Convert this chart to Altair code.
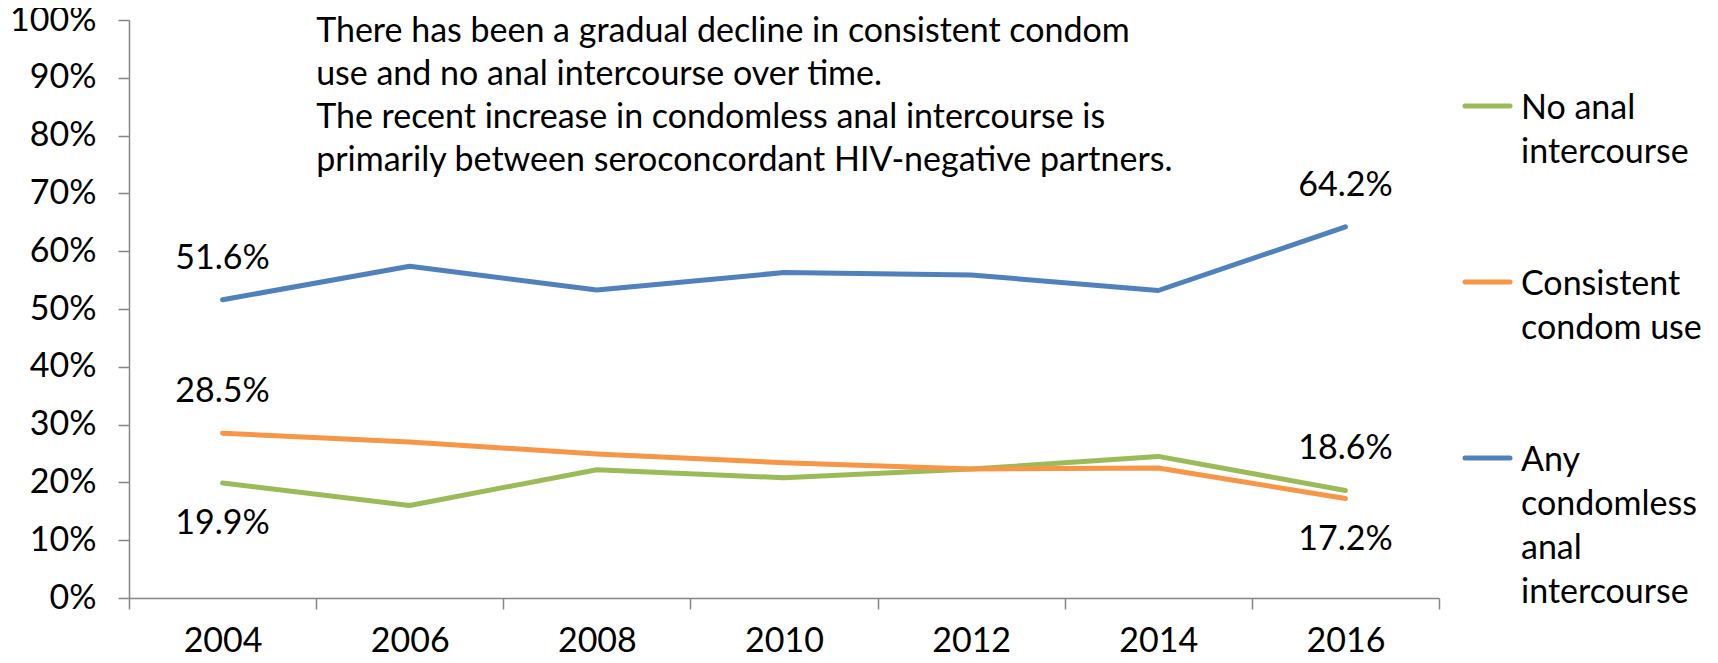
import altair as alt
import pandas as pd

years = ["2004", "2006", "2008", "2010", "2012", "2014", "2016"]
no_anal = [19.9, 16.0, 22.2, 20.8, 22.3, 24.5, 18.6]
consistent = [28.5, 27.0, 24.9, 23.4, 22.3, 22.5, 17.2]
any_cai = [51.6, 57.4, 53.3, 56.3, 55.9, 53.2, 64.2]

series_names = ["No anal intercourse", "Consistent condom use", "Any condomless anal intercourse"]
series_values = [no_anal, consistent, any_cai]
colors = ["#9BBB59", "#F79646", "#4F81BD"]
legend_lines = [["No anal", "intercourse"],
                ["Consistent", "condom use"],
                ["Any", "condomless", "anal", "intercourse"]]

# data labels shown on the chart
label_series = ["Any condomless anal intercourse", "Any condomless anal intercourse",
                "Consistent condom use", "No anal intercourse",
                "No anal intercourse", "Consistent condom use"]
label_years = ["2004", "2016", "2004", "2004", "2016", "2016"]
label_side = ["above", "above", "above", "below", "above", "below"]

y_ticks = [0, 10, 20, 30, 40, 50, 60, 70, 80, 90, 100]

note_lines = [
    "There has been a gradual decline in consistent condom",
    "use and no anal intercourse over time.",
    "The recent increase in condomless anal intercourse is",
    "primarily between seroconcordant HIV-negative partners.",
]

FONT = "Lato"
FS = 34
GRAY = "#868686"

rows = []
for name, vals in zip(series_names, series_values):
    for yr, v in zip(years, vals):
        rows.append({"series": name, "year": yr, "value": v})
df = pd.DataFrame(rows)

lookup = {(r["series"], r["year"]): r["value"] for r in rows}
lab = pd.DataFrame({"series": label_series, "year": label_years, "side": label_side})
lab["value"] = [lookup[(s, y)] for s, y in zip(label_series, label_years)]
lab["text"] = [f"{v:.1f}%" for v in lab["value"]]

leg = pd.DataFrame({"series": series_names, "lines": legend_lines})

color_scale = alt.Scale(domain=series_names, range=colors)

x_enc = alt.X("year:N", sort=years,
              scale=alt.Scale(paddingInner=0, paddingOuter=0),
              axis=alt.Axis(title=None, labelAngle=0, tickBand="extent", tickSize=11,
                            labelPadding=15, labelFont=FONT, labelFontSize=FS,
                            labelColor="black", domainColor=GRAY,
                            tickColor=GRAY, domainWidth=1.5, tickWidth=1.5,
                            grid=False))
y_enc = alt.Y("value:Q",
              scale=alt.Scale(domain=[0, 100], nice=False, zero=True),
              axis=alt.Axis(title=None, values=y_ticks, labelExpr="datum.value + '%'",
                            tickSize=11, labelPadding=22, labelFont=FONT,
                            labelFontSize=FS, labelColor="black",
                            domainColor=GRAY, tickColor=GRAY,
                            domainWidth=1.5, tickWidth=1.5, grid=False))

lines = alt.Chart(df).mark_line(strokeWidth=5, strokeCap="round", strokeJoin="round").encode(
    x=x_enc,
    y=y_enc,
    color=alt.Color("series:N", scale=color_scale, legend=None),
    order=alt.Order("year:N"),
)

above = alt.Chart(lab).transform_filter("datum.side == 'above'").mark_text(
    font=FONT, fontSize=FS, color="black", dy=-41, baseline="middle"
).encode(x=alt.X("year:N", sort=years), y="value:Q", text="text:N")

below = alt.Chart(lab).transform_filter("datum.side == 'below'").mark_text(
    font=FONT, fontSize=FS, color="black", dy=41, baseline="middle"
).encode(x=alt.X("year:N", sort=years), y="value:Q", text="text:N")

note = alt.Chart(pd.DataFrame({"year": ["2006"], "value": [100]})).mark_text(
    font=FONT, fontSize=FS, color="black", align="left", baseline="top",
    lineHeight=43, dy=-5
).encode(
    x=alt.X("year:N", sort=years, bandPosition=0),
    y="value:Q",
    text=alt.value(note_lines),
)

main = alt.layer(lines, above, below, note)

leg_y = alt.Y("series:N", sort=series_names,
              scale=alt.Scale(type="point", range=[86, 438], padding=0), axis=None)

leg_sym = alt.Chart(leg).mark_rule(strokeWidth=5, strokeCap="round").encode(
    x=alt.value(1336), x2=alt.value(1381), y=leg_y,
    color=alt.Color("series:N", scale=color_scale, legend=None),
)
leg_txt = alt.Chart(leg).mark_text(
    font=FONT, fontSize=FS, color="black", align="left", baseline="top",
    lineHeight=44, dy=-14
).encode(x=alt.value(1392), y=leg_y, text="lines")

legend_layer = alt.layer(leg_sym, leg_txt)

chart = alt.layer(main, legend_layer).resolve_scale(y="independent").properties(
    width=1310, height=578,
    autosize=alt.AutoSizeParams(type="none"),
    padding={"left": 121, "top": 12, "right": 271, "bottom": 57},
).configure_view(stroke=None)

chart.save("out.html", embed_options={"renderer": "svg", "actions": False})
